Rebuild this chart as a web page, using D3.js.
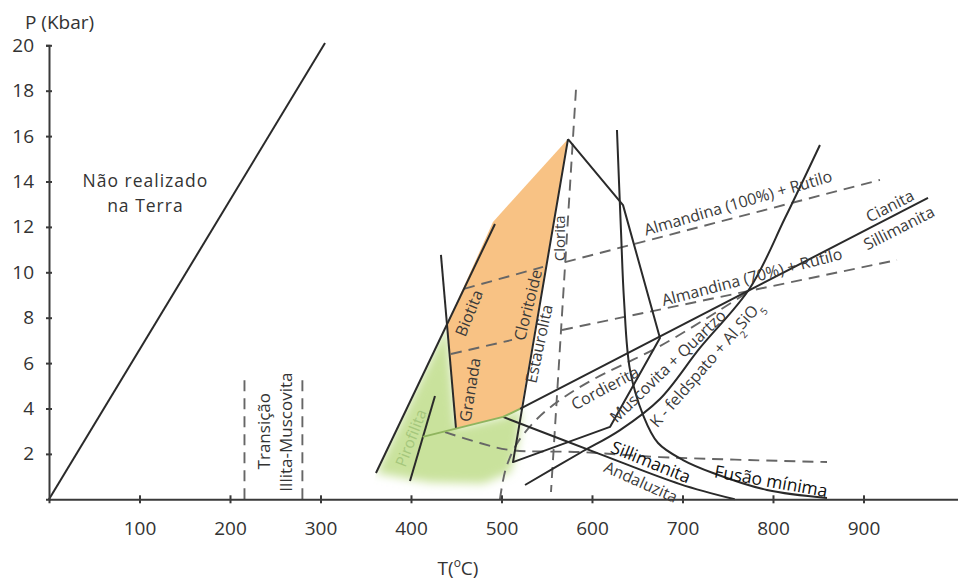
<!DOCTYPE html>
<html>
<head>
<meta charset="utf-8">
<script src="https://cdn.jsdelivr.net/npm/d3@7"></script>
<style>
  body { margin: 0; background: #fff; }
  svg { display: block; font-family: "Open Sans", sans-serif; }
</style>
</head>
<body>
<div id="chart"></div>
<script>
// all points are [temperature in °C, pressure in kbar]
var tempTicks = [100, 200, 300, 400, 500, 600, 700, 800, 900];
var presTicks = [2, 4, 6, 8, 10, 12, 14, 16, 18, 20];

var earthLimit = [[0, 0], [305, 20.1]];
var illitaLow = [[216, 0], [216, 5.4]];
var illitaHigh = [[280, 0], [280, 5.4]];

var biotitaLine = [[492.8, 12.13], [361.3, 1.16]];
var granadaLine = [[433.1, 10.77], [449.7, 3.14]];
var pirofilitaLine = [[426.5, 4.55], [398.9, 0.81]];
var andCianita = [[413, 2.75], [501.7, 3.63], [520.4, 3.98]];
var cianSillimanita = [[520.4, 3.98], [971.3, 13.28]];
var andSillimanita = [[501.7, 3.63], [608.8, 1.99], [697.2, 0.67], [757.7, 0]];
var cordieritaBox = [[573.5, 15.87], [634.3, 12.96], [675.1, 7.11], [619.9, 3.19], [512.7, 1.64], [573.5, 15.87]];
var fusaoMinima = [[627.6, 16.27], [632.0, 11.87], [635.4, 8.78], [642.0, 5.70], [656.4, 3.72],
  [673.0, 2.48], [700.6, 1.73], [733.7, 1.16], [793.4, 0.41], [859.7, 0.06]];
var muscovitaCurve = [[526.0, 0.63], [586.7, 2.04], [631.0, 3.05], [675.1, 4.42], [719.3, 6.67],
  [774.6, 9.31], [813.3, 12.39], [851.9, 15.61]];

var cloritaLine = [[582.3, 18.04], [554.7, 0.32]];
var alm100Left = [[458.6, 9.27], [545.9, 10.24]];
var alm100Right = [[570.2, 10.45], [918.2, 14.07]];
var alm70Left = [[444.2, 6.4], [511.6, 7.02]];
var alm70Right = [[566.9, 7.46], [937, 10.54]];
var lowDashed = [[437.6, 2.96], [476.2, 2.48], [509.4, 2.17], [586.7, 2.08], [675.1, 1.86], [859.7, 1.64]];
var cordDashed = [[498.3, 0], [505.0, 1.38], [518.2, 2.52], [540.3, 3.58], [564.6, 4.37],
  [597.7, 5.2], [675.1, 6.75], [741.4, 8.34], [772.4, 9.13]];

var orangeZone = [[573.5, 15.87], [490.6, 12.22], [439.8, 7.72], [449.7, 3.14], [501.7, 3.63], [521.5, 3.98]];
var greenZone = [[439.8, 7.72], [449.7, 3.14], [501.7, 3.63], [521.5, 3.98], [519, 2.6], [510, 1.2],
  [480, 0.7], [420, 0.75], [361.3, 1.16]];
var greenClip = [[361.3, 1.16], [492.8, 12.13], [620, 12.13], [620, -2], [340, -2]];

// text lines, T, P, rotation, kind
var labels = [
  [["Não realizado", "na Terra"], 106.5, 14.02, 0, "big"],
  [["Transição"], 237.6, 3.0, -90, "mid"],
  [["Illita-Muscovita"], 261.9, 2.96, -90, "mid"],
  [["Pirofilita"], 400, 2.7, -69, "green"],
  [["Granada"], 465.2, 4.82, -81, "lab"],
  [["Biotita"], 464.1, 8.2, -68, "lab"],
  [["Cloritoide"], 529.3, 8.56, -76, "lab"],
  [["Estaurolita"], 541.4, 6.85, -78, "lab"],
  [["Clorita"], 564, 11.5, -90, "small"],
  [["Almandina (100%) + Rutilo"], 761.3, 13.05, -16.3, "lab"],
  [["Almandina (70%) + Rutilo"], 776.8, 9.79, -14.7, "lab"],
  [["Cianita"], 929.3, 12.92, -27, "lab"],
  [["Sillimanita"], 939.2, 11.95, -27, "lab"],
  [["Cordierita"], 614.4, 4.9, -28, "lab"],
  [["Muscovita + Quartzo"], 684, 5.87, -44, "lab"],
  [["K - feldspato + Al_2SiO_5"], 726, 5.96, -49, "lab"],
  [["Sillimanita"], 665, 1.64, 22, "dark"],
  [["Andaluzita"], 654, 0.76, 24, "lab"],
  [["Fusão mínima"], 797.8, 0.8, 10, "dark"]
];

var width = 958, height = 583;
var x = d3.scaleLinear().domain([0, 1005]).range([49, 958.5]);
var y = d3.scaleLinear().domain([0, 20]).range([499.3, 45.3]);

var svg = d3.select("#chart").append("svg")
  .attr("width", width)
  .attr("height", height);

var line = d3.line().x((d) => x(d[0])).y((d) => y(d[1]));
var smooth = d3.line().curve(d3.curveCatmullRom.alpha(0.5)).x((d) => x(d[0])).y((d) => y(d[1]));

var defs = svg.append("defs");
defs.append("filter").attr("id", "soft")
  .attr("x", "-20%").attr("y", "-20%").attr("width", "140%").attr("height", "140%")
  .append("feGaussianBlur").attr("stdDeviation", 5);
defs.append("clipPath").attr("id", "gclip")
  .append("path").attr("d", line(greenClip) + "Z");

// zones
svg.append("g").attr("clip-path", "url(#gclip)")
  .append("path")
  .attr("d", line(greenZone) + "Z")
  .attr("fill", "#c9e29c")
  .attr("filter", "url(#soft)");
svg.append("path")
  .attr("d", line(orangeZone) + "Z")
  .attr("fill", "#f8c284");

// dashed lines
var dashed = [illitaLow, illitaHigh, cloritaLine, alm100Left, alm100Right, alm70Left, alm70Right];
svg.append("g").selectAll("path")
  .data(dashed)
  .enter().append("path")
  .attr("d", line)
  .attr("fill", "none")
  .attr("stroke", "#666")
  .attr("stroke-width", 1.9)
  .attr("stroke-dasharray", "11,7");
svg.append("g").selectAll("path")
  .data([lowDashed, cordDashed])
  .enter().append("path")
  .attr("d", smooth)
  .attr("fill", "none")
  .attr("stroke", "#666")
  .attr("stroke-width", 1.9)
  .attr("stroke-dasharray", "11,7");

// solid lines
var straight = [earthLimit, biotitaLine, granadaLine, pirofilitaLine, cianSillimanita, cordieritaBox];
svg.append("g").selectAll("path")
  .data(straight)
  .enter().append("path")
  .attr("d", line)
  .attr("fill", "none")
  .attr("stroke", "#2a2a2a")
  .attr("stroke-width", 2)
  .attr("stroke-linejoin", "round");
svg.append("g").selectAll("path")
  .data([andSillimanita, fusaoMinima, muscovitaCurve])
  .enter().append("path")
  .attr("d", smooth)
  .attr("fill", "none")
  .attr("stroke", "#2a2a2a")
  .attr("stroke-width", 2);
svg.append("path")
  .attr("d", line(andCianita))
  .attr("fill", "none")
  .attr("stroke", "#8fb45e")
  .attr("stroke-width", 2);

// labels
var sizes = { big: 17.5, mid: 17, lab: 16, small: 15, green: 15.5, dark: 17.5 };
var fills = { big: "#333", mid: "#333", lab: "#3a3a3a", small: "#3a3a3a", green: "#a5c77c", dark: "#111" };
var lab = svg.append("g").selectAll("text")
  .data(labels)
  .enter().append("text")
  .attr("transform", (d) => `translate(${x(d[1])},${y(d[2])}) rotate(${d[3]})`)
  .attr("text-anchor", "middle")
  .attr("font-size", (d) => sizes[d[4]])
  .attr("letter-spacing", (d) => (d[4] === "big" ? 1 : null))
  .attr("fill", (d) => fills[d[4]]);
lab.each(function (d) {
  var t = d3.select(this);
  d[0].forEach(function (row, i) {
    var holder = t.append("tspan").attr("x", 0).attr("dy", i === 0 ? "0.35em" : 24.5);
    row.split(/(_\d)/).forEach(function (part) {
      if (!part) return;
      if (part[0] === "_") {
        holder.append("tspan").attr("font-size", 10).attr("baseline-shift", "sub").text(part.slice(1));
      } else {
        holder.append("tspan").text(part);
      }
    });
  });
});

// axes
var xAxis = svg.append("g")
  .attr("transform", `translate(0,${y(0)})`)
  .call(d3.axisBottom(x).tickValues(tempTicks).tickSizeOuter(0).tickSize(4));
xAxis.selectAll(".tick line").attr("y1", -4).attr("y2", 4);
xAxis.selectAll(".tick text").attr("y", 36).attr("dy", 0);

var yAxis = svg.append("g")
  .attr("transform", `translate(${x(0)},0)`)
  .call(d3.axisLeft(y).tickValues(presTicks).tickSizeOuter(0).tickSize(3));
yAxis.selectAll(".tick line").attr("x1", -3).attr("x2", 3);
yAxis.selectAll(".tick text").attr("x", -15);

svg.selectAll(".domain").attr("stroke", "#3a3a3a").attr("stroke-width", 2);
svg.selectAll(".tick line").attr("stroke", "#3a3a3a").attr("stroke-width", 2);
svg.selectAll(".tick text")
  .attr("font-family", "Open Sans, sans-serif")
  .attr("font-size", 19)
  .attr("fill", "#333");

svg.append("text")
  .attr("x", 25).attr("y", 29)
  .attr("font-size", 19).attr("fill", "#333")
  .text("P (Kbar)");
var tTitle = svg.append("text")
  .attr("x", 458).attr("y", 575)
  .attr("text-anchor", "middle")
  .attr("font-size", 19).attr("fill", "#333");
tTitle.append("tspan").text("T(");
tTitle.append("tspan").attr("font-size", 12).attr("baseline-shift", "super").text("o");
tTitle.append("tspan").text("C)");
</script>
</body>
</html>
